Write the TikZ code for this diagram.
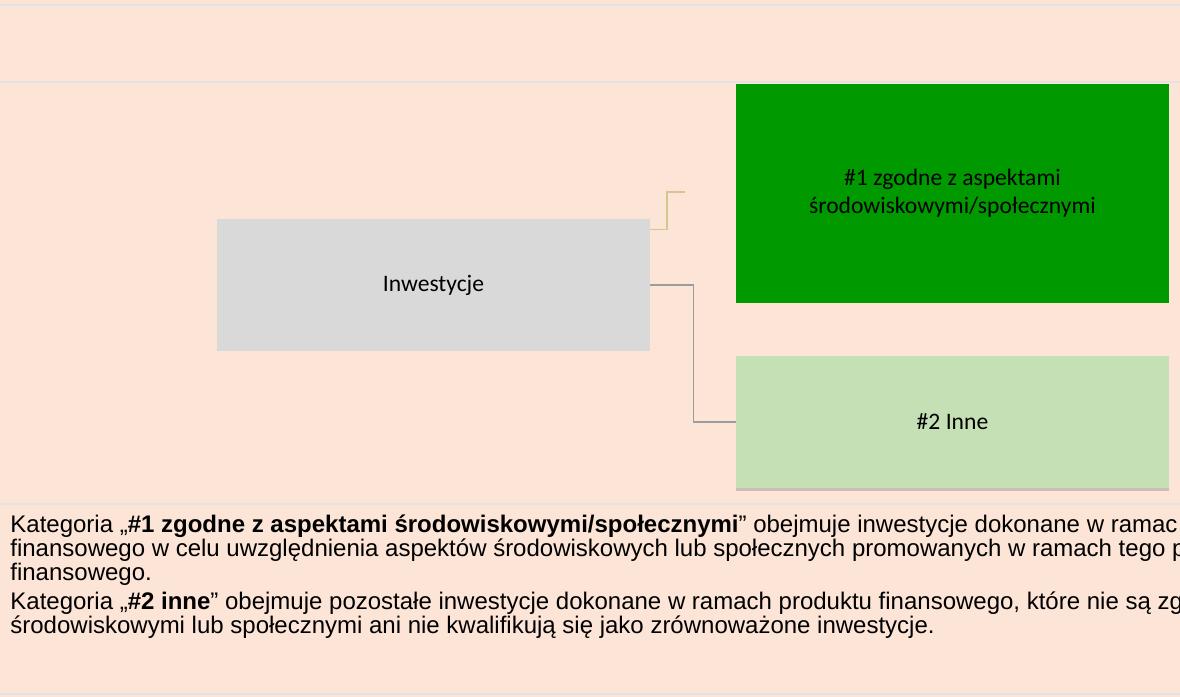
\documentclass[tikz,border=0pt]{standalone}
\usepackage{fontspec}
\setmainfont{Liberation Sans}
\newfontfamily\boxfont{Carlito}
\usetikzlibrary{positioning,shadows,calc}

\definecolor{peach}{HTML}{FCE4D6}
\definecolor{rulegrey}{HTML}{E3E3E3}
\definecolor{invgrey}{HTML}{D9D9D9}
\definecolor{darkgreen}{HTML}{009900}
\definecolor{lightgreen}{HTML}{C5E0B4}
\definecolor{goldline}{HTML}{D5C68C}
\definecolor{linkgrey}{HTML}{9C9C9C}

\tikzset{
    catbox/.style={rectangle, inner sep=0pt, align=center,
        font=\boxfont\fontsize{11.8}{13.8}\selectfont},
    hrule/.style={rulegrey, line width=1pt},
    bodyline/.style={anchor=base west, inner sep=0pt,
        font=\fontsize{12}{12}\selectfont}
}

\begin{document}
\begin{tikzpicture}[x=0.5pt, y=-0.5pt]
\useasboundingbox (0,0) rectangle (1180,697);
\fill[peach] (0,0) rectangle (1180,697);

\draw[hrule] (0,5) -- (1180,5);
\draw[hrule] (0,82) -- (1180,82);
\draw[hrule] (0,504) -- (1180,504);
\draw[hrule] (0,694) -- (1180,694);

\node[catbox, fill=invgrey, minimum width=216.5pt, minimum height=66pt] at (433.5,285) (inv) {Inwestycje};
\node[catbox, fill=darkgreen, minimum width=216.5pt, minimum height=109.5pt] at (952.5,193) (zg) {\#1 zgodne z aspektami\\środowiskowymi/społecznymi};
\node[catbox, fill=lightgreen, minimum width=216.5pt, minimum height=66pt,
    drop shadow={shadow xshift=0pt, shadow yshift=-1.5pt, opacity=0.3, fill=black!60}] at (952.5,422) (inne) {\#2 Inne};

\coordinate (zgend) at (685,192);
\draw[goldline, line width=0.8pt] ([yshift=-5.5pt]inv.north east) -| (667,192) -- (zgend);
\draw[linkgrey, line width=0.6pt] (inv.east) -- ++(43,0) |- (inne.west);

\node[bodyline] at (10,532) (l1) {Kategoria „\textbf{\#1 zgodne z aspektami środowiskowymi/społecznymi}” obejmuje inwestycje dokonane w ramac};
\node[bodyline] at (10,556) (l2) {finansowego w celu uwzględnienia aspektów środowiskowych lub społecznych promowanych w ramach tego p};
\node[bodyline] at (10,580) (l3) {finansowego.};
\node[bodyline] at (10,609) (l4) {Kategoria „\textbf{\#2 inne}” obejmuje pozostałe inwestycje dokonane w ramach produktu finansowego, które nie są zg};
\node[bodyline] at (10,633) (l5) {środowiskowymi lub społecznymi ani nie kwalifikują się jako zrównoważone inwestycje.};
\end{tikzpicture}
\end{document}
